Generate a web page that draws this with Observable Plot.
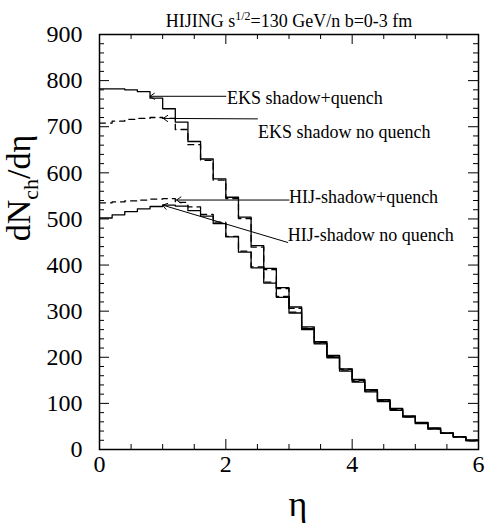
<!DOCTYPE html>
<html><head><meta charset="utf-8">
<script src="https://cdn.jsdelivr.net/npm/d3@7"></script>
<script src="https://cdn.jsdelivr.net/npm/@observablehq/plot@0.6"></script>
<style>body{margin:0;background:#fff} svg{display:block} svg text{font-family:"Liberation Serif","Times New Roman",serif !important;}</style>
</head><body><div id="chart"></div>
<script>
// bin lower edges (eta), bin width 0.2
const etaEdges = [0,0.2,0.4,0.6,0.8,1.0,1.2,1.4,1.6,1.8,2.0,2.2,2.4,2.6,2.8,3.0,3.2,3.4,3.6,3.8,4.0,4.2,4.4,4.6,4.8,5.0,5.2,5.4,5.6,5.8];
const etaMax = 6;
const eksQuench   = [782,782,780,776,762,739,710,668,630,587,547,504,442,393,351,309,266,234,204,175,152,130,108,89,73,59,47,36,28,21];
const eksNoQuench = [708,712,716,718,720,718,694,661,627,584,544,501,439,390,349,306,263,232,202,174,150,128,107,88,72,58,46,36,28,20];
const hijQuench   = [535,537,539,541,543,544,536,526,510,493,462,430,396,363,332,298,262,231,201,172,148,127,106,87,71,57,45,35,27,19];
const hijNoQuench = [502,509,516,522,527,530,528,518,506,490,461,428,394,361,330,296,260,229,199,170,146,125,104,85,70,56,44,35,27,19];

const xTicks = [0,2,4,6];
const xTickLabels = ["0","2","4","6"];
const yTicks = [0,100,200,300,400,500,600,700,800,900];

// annotations
const labelTexts = ["EKS shadow+quench","EKS shadow no quench","HIJ-shadow+quench","HIJ-shadow no quench"];
const labelX = [2.02,2.51,3.0,2.98];
const labelY = [762,688,548,464];
const arrowFromX = [2.0,2.5,3.0,2.98];
const arrowFromY = [766,717,541,449];
const arrowToX = [0.80,1.01,1.22,1.0];
const arrowToY = [766,718,541,530];

function steps(vals){
  const rows = etaEdges.map((x,i)=>({x, y: vals[i]}));
  rows.push({x: etaMax, y: vals[vals.length-1]});
  return rows;
}
const annots = labelTexts.map((t,i)=>({t, lx:labelX[i], ly:labelY[i], x1:arrowFromX[i], y1:arrowFromY[i], x2:arrowToX[i], y2:arrowToY[i]}));

const W=486,H=523,mL=99,mR=8,mT=34,mB=74;
const fw=W-mL-mR, fh=H-mT-mB;
const xMinor = d3.range(0.5,6,0.5).filter(v=>v%2!==0);
const yMinor = d3.range(20,900,20).filter(v=>v%100!==0);
const font = "Liberation Serif";

const chart = Plot.plot({
  width: W, height: H,
  marginLeft: mL, marginRight: mR, marginTop: mT, marginBottom: mB,
  x: {domain:[0,6]},
  y: {domain:[0,900]},
  style: {fontFamily: font, background: "white", color: "black"},
  marks: [
    Plot.axisX({ticks: xTicks, tickFormat: (d,i)=>xTickLabels[xTicks.indexOf(d)], tickSize: 0, tickPadding: 5, fontSize: 24, fontFamily: font, fontWeight: "normal", label: null}),
    Plot.axisY({ticks: yTicks, tickFormat: d=>String(d), tickSize: 0, tickPadding: 17, fontSize: 24, fontFamily: font, fontWeight: "normal", label: null}),
    // inward ticks, bottom & top
    Plot.tickX(xTicks, {x: d=>d, insetTop: fh-10, stroke: "black"}),
    Plot.tickX(xTicks, {x: d=>d, insetBottom: fh-10, stroke: "black"}),
    Plot.tickX(xMinor, {x: d=>d, insetTop: fh-5, stroke: "black"}),
    Plot.tickX(xMinor, {x: d=>d, insetBottom: fh-5, stroke: "black"}),
    // inward ticks, left & right
    Plot.tickY(yTicks, {y: d=>d, insetRight: fw-10, stroke: "black"}),
    Plot.tickY(yTicks, {y: d=>d, insetLeft: fw-10, stroke: "black"}),
    Plot.tickY(yMinor, {y: d=>d, insetRight: fw-5, stroke: "black"}),
    Plot.tickY(yMinor, {y: d=>d, insetLeft: fw-5, stroke: "black"}),
    Plot.line(steps(hijNoQuench), {x:"x", y:"y", curve:"step-after", stroke:"black", strokeWidth:1.3}),
    Plot.line(steps(hijQuench), {x:"x", y:"y", curve:"step-after", stroke:"black", strokeWidth:1.3, strokeDasharray:"6,5"}),
    Plot.line(steps(eksNoQuench), {x:"x", y:"y", curve:"step-after", stroke:"black", strokeWidth:1.3, strokeDasharray:"6,5"}),
    Plot.line(steps(eksQuench), {x:"x", y:"y", curve:"step-after", stroke:"black", strokeWidth:1.3}),
    Plot.arrow(annots, {x1:"x1", y1:"y1", x2:"x2", y2:"y2", stroke:"black", strokeWidth:1, headLength:8, headAngle:70}),
    Plot.text(annots, {x:"lx", y:"ly", text:"t", textAnchor:"start", fontSize:18, fontFamily: font, fill:"black"}),
    Plot.frame({stroke:"black", strokeWidth:1.5})
  ]
});

const svg = d3.select(chart);
// title
const title = svg.append("text").attr("x", 289).attr("y", 27).attr("text-anchor","middle")
  .attr("font-family", font).attr("font-size", 18).attr("fill","black");
title.append("tspan").text("HIJING s");
title.append("tspan").attr("dy", -7).attr("font-size", 12).text("1/2");
title.append("tspan").attr("dy", 7).text("=130 GeV/n b=0-3 fm");
// y label
const yl = svg.append("text").attr("transform","translate(30,188) rotate(-90)").attr("text-anchor","middle")
  .attr("font-family", font).attr("font-size", 34).attr("fill","black");
yl.append("tspan").text("dN");
yl.append("tspan").attr("dy", 8).attr("font-size", 22).text("ch");
yl.append("tspan").attr("dy", -8).text("/dη");
// x label
svg.append("text").attr("x", 298).attr("y", 516).attr("text-anchor","middle")
  .attr("font-family", font).attr("font-size", 36).attr("fill","black").text("η");

document.getElementById("chart").appendChild(chart);
</script>
</body></html>
